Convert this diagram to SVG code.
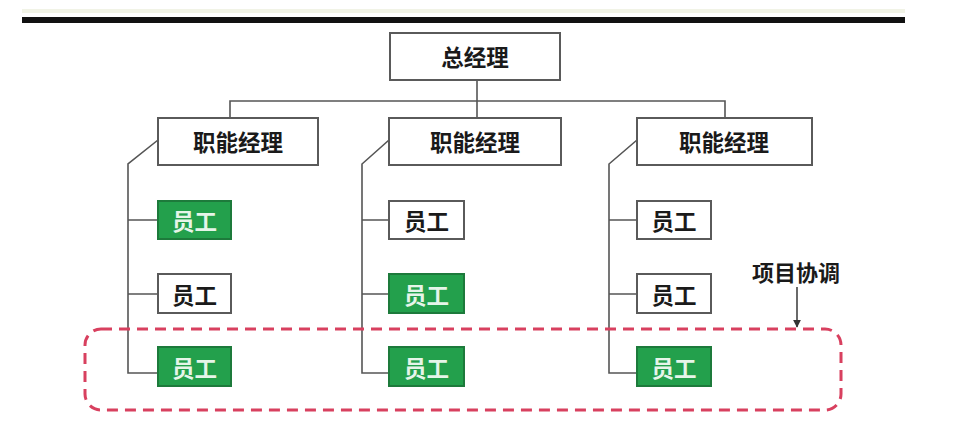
<svg xmlns="http://www.w3.org/2000/svg" width="964" height="426" viewBox="0 0 964 426">
<style>
  .box{fill:#ffffff;stroke:#5a5a5a;stroke-width:2}
  .gbox{fill:#23a04c;stroke:#1d7a3b;stroke-width:2}
  .t{font-family:"Noto Sans CJK SC","Noto Sans",sans-serif;font-weight:bold;font-size:22.5px;fill:#1a1a1a;text-anchor:middle;dominant-baseline:central}
  .gt{fill:#e6f5e9}
  .ln{fill:none;stroke:#555555;stroke-width:1.6}
</style>
<defs>
  <marker id="ah" viewBox="0 0 10 10" refX="9" refY="5" markerWidth="5" markerHeight="5" orient="auto">
    <path d="M0,0 L10,5 L0,10 z" fill="#333"/>
  </marker>
</defs>
<rect width="964" height="426" fill="#ffffff"/>
<rect x="22" y="9" width="883" height="4" fill="#f1f3e6"/>
<rect x="22" y="17" width="883" height="6" fill="#111111"/>

<g id="connectors">
  <path class="ln" d="M477,80 V118"/>
  <path class="ln" d="M230,118 V101 H725 V118"/>
  <path class="ln" d="M158,140 L128,164 V373 H158 M128,220 H158 M128,294 H158"/>
  <path class="ln" d="M389,140 L362,164 V373 H389 M362,220 H389 M362,294 H389"/>
  <path class="ln" d="M637,140 L609,164 V373 H637 M609,220 H637 M609,294 H637"/>
  <path d="M797,287 V327" fill="none" stroke="#444" stroke-width="1.6" marker-end="url(#ah)"/>
</g>

<g id="gm"><rect class="box" x="390" y="33" width="170" height="47"/><text class="t" x="475" y="56">总经理</text></g>

<g id="fm1"><rect class="box" x="158" y="118" width="160" height="47"/><text class="t" x="238" y="141">职能经理</text></g>
<g id="fm2"><rect class="box" x="389" y="118" width="172" height="47"/><text class="t" x="475" y="141">职能经理</text></g>
<g id="fm3"><rect class="box" x="637" y="118" width="175" height="47"/><text class="t" x="724" y="141">职能经理</text></g>

<g id="e11"><rect class="gbox" x="158" y="201" width="73" height="38"/><text class="t gt" x="194.5" y="220">员工</text></g>
<g id="e12"><rect class="box" x="158" y="274" width="73" height="39"/><text class="t" x="194.5" y="293.5">员工</text></g>
<g id="e13"><rect class="gbox" x="158" y="347" width="73" height="39"/><text class="t gt" x="194.5" y="366.5">员工</text></g>

<g id="e21"><rect class="box" x="389" y="201" width="75" height="38"/><text class="t" x="426.5" y="220">员工</text></g>
<g id="e22"><rect class="gbox" x="389" y="274" width="75" height="39"/><text class="t gt" x="426.5" y="293.5">员工</text></g>
<g id="e23"><rect class="gbox" x="389" y="347" width="75" height="39"/><text class="t gt" x="426.5" y="366.5">员工</text></g>

<g id="e31"><rect class="box" x="637" y="201" width="74" height="38"/><text class="t" x="674" y="220">员工</text></g>
<g id="e32"><rect class="box" x="637" y="274" width="74" height="39"/><text class="t" x="674" y="293.5">员工</text></g>
<g id="e33"><rect class="gbox" x="637" y="347" width="74" height="39"/><text class="t gt" x="674" y="366.5">员工</text></g>

<g id="project">
  <rect x="85" y="329" width="756" height="81" rx="16" ry="16" fill="none" stroke="#d8405f" stroke-width="3" stroke-dasharray="11,7"/>
  <text class="t" x="796" y="271" style="font-size:22px">项目协调</text>
</g>
</svg>
